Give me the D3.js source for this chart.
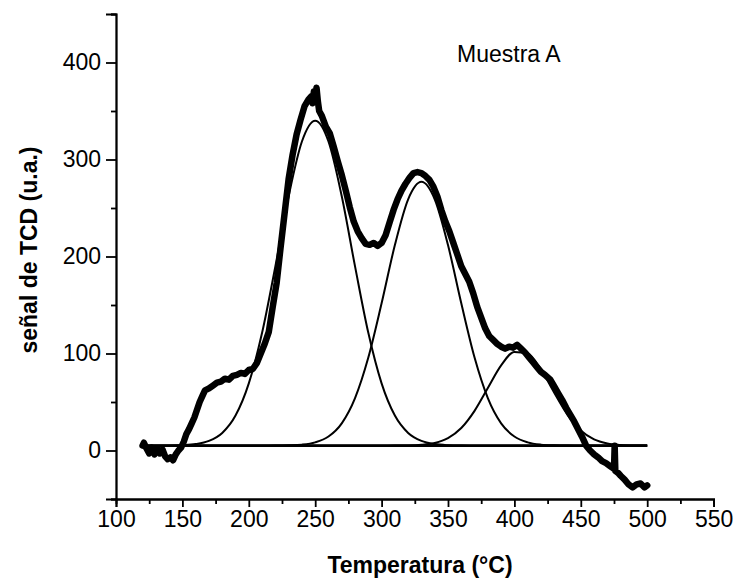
<!DOCTYPE html>
<html>
<head>
<meta charset="utf-8">
<script src="https://cdn.jsdelivr.net/npm/d3@7"></script>
<style>
  html, body { margin: 0; padding: 0; background: #fff; }
  svg { display: block; font-family: "Liberation Sans", Arial, sans-serif; }
</style>
</head>
<body>
<svg id="chart" width="733" height="578"></svg>
<script>
// ---- data ----
const expTemp = [120,121,123,125,127,129,131,133,135,137,139,141,143,145,147,149,151,153,155,157,159,161,163,165,167,170,173,176,179,182,185,188,191,194,197,200,203,206,209,212,215,218,221,224,227,230,233,236,239,242,245,247,248,249,250,251,252,253,255,258,261,264,267,270,273,276,279,282,285,288,291,294,297,300,303,306,309,312,315,318,321,324,327,330,333,336,339,342,345,348,351,354,357,360,363,366,369,372,375,378,381,384,387,390,393,396,399,402,405,408,411,414,417,420,423,427,430,433,436,439,442,445,448,451,454,457,460,463,466,469,472,474,475,475.5,476,478,480,483,486,489,492,495,498,500];
const expSignal = [5,8,2,-3,3,-4,2,-3,1,-6,-9,-7,-10,-4,0,3,9,17,22,28,34,42,50,56,62,64,67,70,71,74,73,77,78,80,79,83,84,90,100,110,122,148,173,210,245,280,305,326,341,355,362,365,358,370,362,374,360,350,345,334,327,313,298,284,268,251,236,226,219,213,212,214,211,214,222,235,248,259,268,275,281,286,287,286,283,279,272,262,248,236,226,214,202,190,182,174,162,148,137,126,118,114,110,107,105,107,106,109,105,101,96,91,86,81,78,73,66,59,52,44,37,30,22,14,5,0,-4,-7,-11,-13,-16,-18,-19,5,-21,-23,-26,-30,-35,-38,-35,-34,-38,-36];

const fitTemp = [120,130,140,150,160,170,180,190,200,210,220,230,240,250,260,270,280,290,300,310,320,330,340,350,360,370,380,390,400,410,420,430,440,450,460,470,480,490,500];
const peak1 = [5,5,5,5.45,6.6,9.9,18.1,36.0,69.2,121.3,189.8,262.1,318.6,340,318.6,262.1,189.8,121.3,69.2,36.0,18.1,9.9,6.6,5.45,5.1,5,5,5,5,5,5,5,5,5,5,5,5,5,5];
const peak2 = [5,5,5,5,5,5,5,5,5,5,5.05,5.3,6.05,8.4,14.4,28.0,54.0,95.8,151.7,211.8,259,277,259,211.8,151.7,95.8,54.0,28.0,14.4,8.4,6.05,5.3,5.05,5,5,5,5,5,5];
const peak3 = [5,5,5,5,5,5,5,5,5,5,5,5,5,5,5,5,5,5,5,5.05,5.2,5.85,7.8,12.8,23.2,40.9,64.4,87.7,101.6,100,83.5,59.5,36.8,20.6,11.4,7.2,5.65,5.16,5.03];
const baseTemp = [120,500];
const baseSignal = [5,5];

const xTicks = [100,150,200,250,300,350,400,450,500,550];
const yTicks = [0,100,200,300,400];
const xLabel = "Temperatura (°C)";
const yLabel = "señal de TCD (u.a.)";
const sampleLabel = "Muestra A";

// ---- layout ----
const W = 733, H = 578;
const m = {left: 116, right: 19.4, top: 14, bottom: 79};
const svg = d3.select("#chart");

const x = d3.scaleLinear().domain([100, 550]).range([m.left, W - m.right]);
const y = d3.scaleLinear().domain([-50, 450]).range([H - m.bottom, m.top]);

const g = svg.append("g");

// fitted curves (thin)
const fitLine = d3.line().x(d => x(d[0])).y(d => y(d[1])).curve(d3.curveMonotoneX);
[peak1, peak2, peak3].forEach(p => {
  g.append("path")
    .datum(fitTemp.map((t, i) => [t, p[i]]))
    .attr("fill", "none").attr("stroke", "#000").attr("stroke-width", 2)
    .attr("d", fitLine);
});
g.append("path")
  .datum(baseTemp.map((t, i) => [t, baseSignal[i]]))
  .attr("fill", "none").attr("stroke", "#000").attr("stroke-width", 2.6)
  .attr("d", d3.line().x(d => x(d[0])).y(d => y(d[1])));

// experimental (thick)
g.append("path")
  .datum(expTemp.map((t, i) => [t, expSignal[i]]))
  .attr("fill", "none").attr("stroke", "#000").attr("stroke-width", 6.5)
  .attr("stroke-linejoin", "round").attr("stroke-linecap", "round")
  .attr("d", d3.line().x(d => x(d[0])).y(d => y(d[1])));

// axes
const fs = 23;
const xAxis = d3.axisBottom(x).tickValues(xTicks).tickSize(8).tickPadding(4).tickFormat(d3.format("d"));
const xMinor = d3.axisBottom(x).tickValues(d3.range(125, 550, 50)).tickSize(5).tickFormat("");
const yAxis = d3.axisLeft(y).tickValues(yTicks).tickSize(10).tickPadding(5).tickFormat(d3.format("d"));
const yMinor = d3.axisLeft(y).tickValues([-50, 50, 150, 250, 350, 450]).tickSize(5).tickFormat("");

function style(sel) {
  sel.select(".domain").attr("stroke", "#000").attr("stroke-width", 1.8);
  sel.selectAll(".tick line").attr("stroke", "#000").attr("stroke-width", 1.8);
  sel.selectAll(".tick text").attr("fill", "#000").style("font-size", fs + "px")
    .style("font-family", '"Liberation Sans", Arial, sans-serif');
}
svg.append("g").attr("transform", `translate(0,${H - m.bottom})`).call(xMinor).call(style);
svg.append("g").attr("transform", `translate(0,${H - m.bottom})`).call(xAxis).call(style);
svg.append("g").attr("transform", `translate(${m.left},0)`).call(yMinor).call(style);
svg.append("g").attr("transform", `translate(${m.left},0)`).call(yAxis).call(style);

// titles
svg.append("text")
  .attr("x", 420).attr("y", 573)
  .attr("text-anchor", "middle").attr("font-weight", "bold").attr("font-size", 23)
  .text(xLabel);
svg.append("text")
  .attr("transform", `translate(37,250) rotate(-90)`)
  .attr("text-anchor", "middle").attr("font-weight", "bold").attr("font-size", 23)
  .text(yLabel);
svg.append("text")
  .attr("x", 457).attr("y", 62)
  .attr("font-size", 23)
  .text(sampleLabel);
</script>
</body>
</html>
